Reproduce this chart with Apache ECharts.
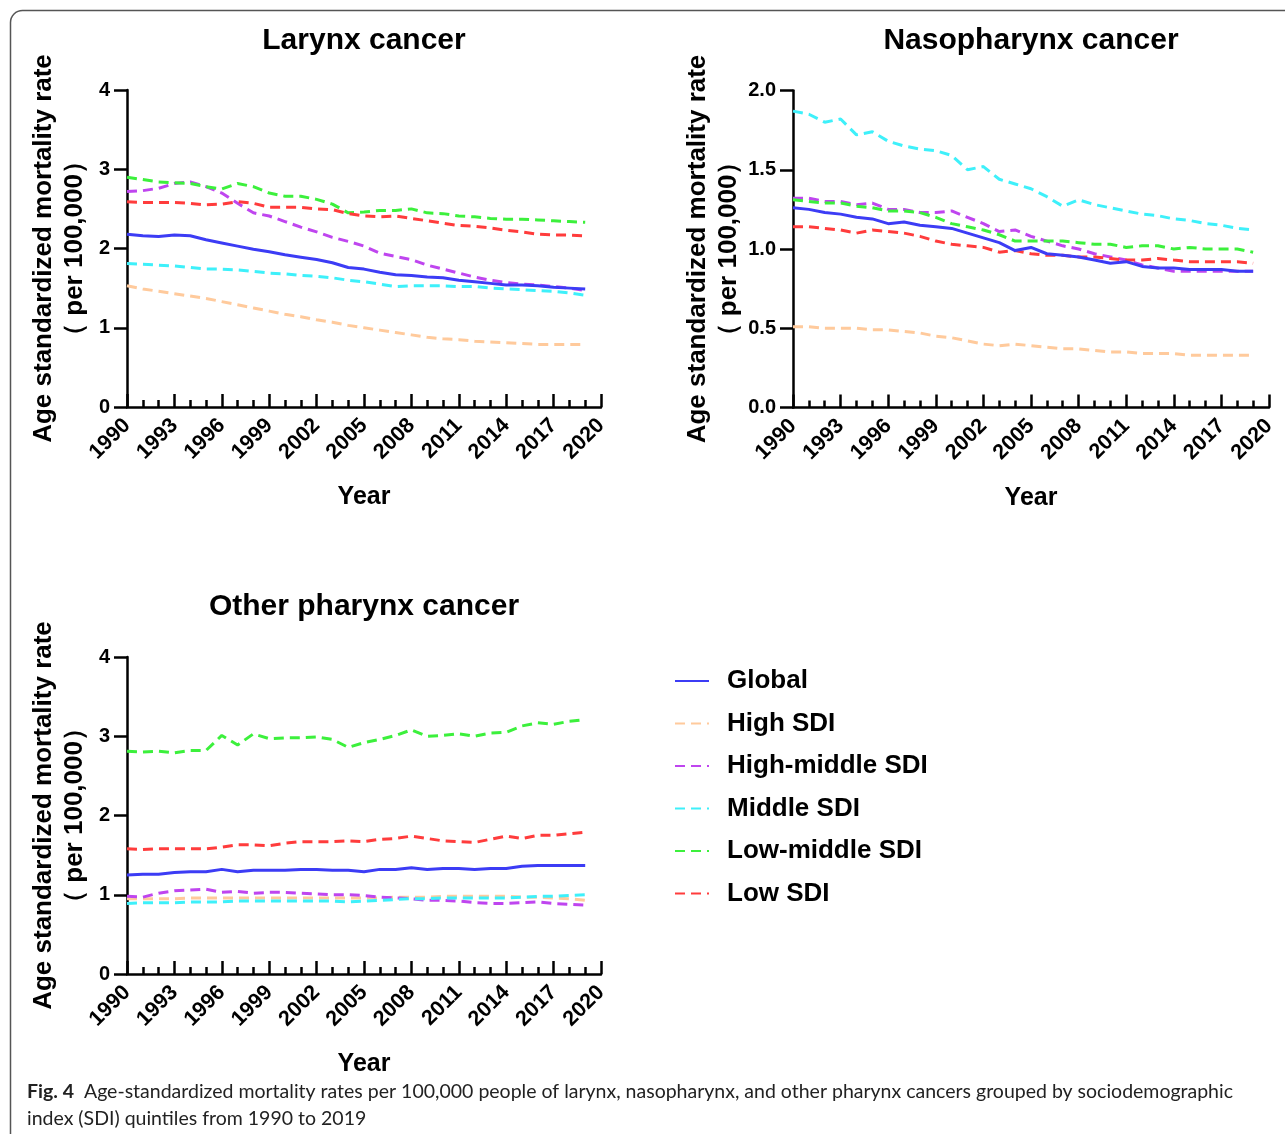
<!DOCTYPE html>
<html>
<head>
<meta charset="utf-8">
<script src="https://cdn.jsdelivr.net/npm/echarts@6/dist/echarts.min.js"></script>
<style>
html,body{margin:0;padding:0;background:#fff;}
#chart{width:1285px;height:1134px;}
</style>
</head>
<body>
<div id="chart"></div>
<script>
// ---------- data ----------
const years = [1990,1991,1992,1993,1994,1995,1996,1997,1998,1999,2000,2001,2002,2003,2004,2005,2006,2007,2008,2009,2010,2011,2012,2013,2014,2015,2016,2017,2018,2019];
const seriesNames = ['Global','High SDI','High-middle SDI','Middle SDI','Low-middle SDI','Low SDI'];
const seriesColors = ['#3c3cf5','#ffca9c','#bf45ef','#3ef0fa','#3cf03c','#ff3c3c'];
const panelTitles = ['Larynx cancer','Nasopharynx cancer','Other pharynx cancer'];

// Larynx cancer
const larynxGlobal     = [2.18,2.16,2.15,2.17,2.16,2.11,2.07,2.03,1.99,1.96,1.92,1.89,1.86,1.82,1.76,1.74,1.70,1.67,1.66,1.64,1.63,1.60,1.58,1.56,1.54,1.54,1.53,1.51,1.50,1.49];
const larynxHigh       = [1.53,1.49,1.46,1.43,1.40,1.37,1.33,1.29,1.25,1.21,1.17,1.14,1.10,1.07,1.03,1.00,0.97,0.94,0.91,0.88,0.86,0.85,0.83,0.82,0.81,0.80,0.79,0.79,0.79,0.79];
const larynxHighMid    = [2.72,2.73,2.76,2.82,2.84,2.78,2.70,2.57,2.45,2.41,2.34,2.27,2.21,2.14,2.09,2.03,1.94,1.90,1.86,1.79,1.74,1.69,1.64,1.60,1.57,1.55,1.54,1.52,1.50,1.47];
const larynxMiddle     = [1.81,1.80,1.79,1.78,1.76,1.74,1.74,1.73,1.71,1.69,1.68,1.66,1.65,1.63,1.60,1.58,1.55,1.52,1.53,1.53,1.53,1.52,1.52,1.50,1.49,1.48,1.47,1.46,1.44,1.41];
const larynxLowMid     = [2.90,2.87,2.84,2.83,2.82,2.78,2.75,2.82,2.78,2.70,2.66,2.66,2.62,2.56,2.45,2.46,2.48,2.48,2.50,2.45,2.44,2.41,2.40,2.38,2.37,2.37,2.36,2.35,2.34,2.33];
const larynxLow        = [2.59,2.58,2.58,2.58,2.57,2.55,2.56,2.59,2.57,2.52,2.52,2.52,2.50,2.49,2.44,2.41,2.40,2.41,2.38,2.35,2.32,2.29,2.28,2.26,2.23,2.21,2.18,2.17,2.17,2.16];

// Nasopharynx cancer
const nasoGlobal       = [1.26,1.25,1.23,1.22,1.20,1.19,1.16,1.17,1.15,1.14,1.13,1.10,1.07,1.04,0.99,1.01,0.97,0.96,0.95,0.93,0.91,0.92,0.89,0.88,0.88,0.87,0.87,0.87,0.86,0.86];
const nasoHigh         = [0.51,0.51,0.50,0.50,0.50,0.49,0.49,0.48,0.47,0.45,0.44,0.42,0.40,0.39,0.40,0.39,0.38,0.37,0.37,0.36,0.35,0.35,0.34,0.34,0.34,0.33,0.33,0.33,0.33,0.33];
const nasoHighMid      = [1.32,1.32,1.30,1.30,1.28,1.29,1.25,1.25,1.23,1.23,1.24,1.20,1.16,1.11,1.12,1.08,1.05,1.02,1.00,0.97,0.95,0.93,0.90,0.88,0.86,0.86,0.86,0.86,0.86,0.86];
const nasoMiddle       = [1.87,1.85,1.80,1.82,1.72,1.74,1.68,1.65,1.63,1.62,1.59,1.50,1.52,1.44,1.41,1.38,1.33,1.27,1.31,1.28,1.26,1.24,1.22,1.21,1.19,1.18,1.16,1.15,1.13,1.12];
const nasoLowMid       = [1.31,1.30,1.29,1.29,1.27,1.26,1.24,1.24,1.23,1.20,1.16,1.14,1.12,1.09,1.05,1.05,1.05,1.05,1.04,1.03,1.03,1.01,1.02,1.02,1.00,1.01,1.00,1.00,1.00,0.98];
const nasoLow          = [1.14,1.14,1.13,1.12,1.10,1.12,1.11,1.10,1.08,1.05,1.03,1.02,1.01,0.98,0.99,0.97,0.96,0.96,0.95,0.95,0.94,0.93,0.93,0.94,0.93,0.92,0.92,0.92,0.92,0.91];

// Other pharynx cancer
const otherGlobal      = [1.25,1.26,1.26,1.28,1.29,1.29,1.32,1.29,1.31,1.31,1.31,1.32,1.32,1.31,1.31,1.29,1.32,1.32,1.34,1.32,1.33,1.33,1.32,1.33,1.33,1.36,1.37,1.37,1.37,1.37];
const otherHigh        = [0.95,0.95,0.95,0.95,0.96,0.96,0.96,0.96,0.96,0.96,0.96,0.96,0.96,0.96,0.96,0.96,0.96,0.97,0.97,0.97,0.98,0.98,0.98,0.98,0.98,0.97,0.97,0.96,0.95,0.93];
const otherHighMid     = [0.98,0.97,1.02,1.05,1.06,1.07,1.03,1.04,1.02,1.03,1.03,1.02,1.01,1.00,1.00,0.99,0.97,0.96,0.95,0.93,0.93,0.92,0.90,0.89,0.89,0.90,0.91,0.89,0.88,0.87];
const otherMiddle      = [0.89,0.90,0.90,0.90,0.91,0.91,0.91,0.92,0.92,0.92,0.92,0.92,0.92,0.92,0.91,0.92,0.93,0.94,0.95,0.95,0.96,0.96,0.96,0.96,0.96,0.97,0.98,0.98,0.99,1.00];
const otherLowMid      = [2.81,2.80,2.81,2.79,2.82,2.82,3.01,2.89,3.03,2.97,2.98,2.98,2.99,2.96,2.86,2.92,2.96,3.01,3.08,3.00,3.01,3.03,3.00,3.04,3.05,3.13,3.17,3.15,3.19,3.21];
const otherLow         = [1.58,1.57,1.58,1.58,1.58,1.58,1.60,1.63,1.63,1.62,1.65,1.67,1.67,1.67,1.68,1.67,1.70,1.71,1.74,1.71,1.68,1.67,1.66,1.70,1.74,1.71,1.75,1.75,1.77,1.79];

const panelData = [
  [larynxGlobal, larynxHigh, larynxHighMid, larynxMiddle, larynxLowMid, larynxLow],
  [nasoGlobal, nasoHigh, nasoHighMid, nasoMiddle, nasoLowMid, nasoLow],
  [otherGlobal, otherHigh, otherHighMid, otherMiddle, otherLowMid, otherLow]
];
const yAxisMax = [4, 2, 4];
const yAxisInterval = [1, 0.5, 1];

// ---------- layout ----------
const grids = [
  {left:127, top:90, width:474, height:317},
  {left:793, top:90.5, width:476, height:317},
  {left:127, top:657, width:474, height:317}
];
const FONT = 'Arial, "Liberation Sans", Helvetica, sans-serif';

const chart = echarts.init(document.getElementById('chart'), null, {renderer:'canvas'});

const xAxes = [], yAxes = [], series = [];
grids.forEach((g, i) => {
  xAxes.push({
    gridIndex:i, type:'value', min:1990, max:2020, interval:3,
    name:'Year', nameLocation:'middle', nameGap:78,
    nameTextStyle:{fontFamily:FONT, fontWeight:'bold', fontSize:25, color:'#000'},
    axisLine:{show:true, onZero:false, lineStyle:{color:'#000', width:2.5}},
    axisTick:{show:true, inside:true, length:13, lineStyle:{color:'#000', width:2.5}},
    minorTick:{show:true, splitNumber:3, length:7, lineStyle:{color:'#000', width:2.5}},
    splitLine:{show:false},
    axisLabel:{rotate:45, margin:15, fontFamily:FONT, fontWeight:'bold', fontSize:21.5, color:'#000',
      formatter: v => String(v)}
  });
  yAxes.push({
    gridIndex:i, type:'value', min:0, max:yAxisMax[i], interval:yAxisInterval[i],
    name:'Age standardized mortality rate\n（ per 100,000）', nameLocation:'middle', nameGap:37,
    nameTextStyle:{fontFamily:FONT, fontWeight:'bold', fontSize:26, color:'#000', lineHeight:31},
    axisLine:{show:true, lineStyle:{color:'#000', width:2.5}},
    axisTick:{show:true, inside:false, length:13, lineStyle:{color:'#000', width:2.5}},
    splitLine:{show:false},
    axisLabel:{margin:17, fontFamily:FONT, fontWeight:'bold', fontSize:20, color:'#000',
      formatter: v => (i === 1 ? v.toFixed(1) : String(v))}
  });
  panelData[i].forEach((arr, k) => {
    series.push({
      name: seriesNames[k], type:'line', xAxisIndex:i, yAxisIndex:i,
      data: years.map((y, j) => [y, arr[j]]),
      symbol:'none', smooth:false, silent:true,
      z: k === 0 ? 3 : 2,
      lineStyle:{color:seriesColors[k], width:3, type: k === 0 ? 'solid' : [10,6]},
      itemStyle:{color:seriesColors[k]}
    });
  });
});

const graphics = [
  {type:'rect', shape:{x:10.5, y:10.5, width:1400, height:1300, r:12}, style:{fill:'none', stroke:'#555', lineWidth:1.5}, silent:true},
  {type:'text', x:364, y:41, style:{text:panelTitles[0], fontFamily:FONT, fontWeight:'bold', fontSize:30, fill:'#000', textAlign:'center', textVerticalAlign:'middle'}},
  {type:'text', x:1031, y:41, style:{text:panelTitles[1], fontFamily:FONT, fontWeight:'bold', fontSize:30, fill:'#000', textAlign:'center', textVerticalAlign:'middle'}},
  {type:'text', x:364, y:607, style:{text:panelTitles[2], fontFamily:FONT, fontWeight:'bold', fontSize:30, fill:'#000', textAlign:'center', textVerticalAlign:'middle'}},
  {type:'text', x:27, y:1078, style:{
    text:'{b|Fig. 4}{r|  Age-standardized mortality rates per 100,000 people of larynx, nasopharynx, and other pharynx cancers grouped by sociodemographic}\n{r|index (SDI) quintiles from 1990 to 2019}',
    rich:{
      b:{fontFamily:'Lato, "Open Sans", sans-serif', fontWeight:'bold', fontSize:19.5, fill:'#222', lineHeight:27},
      r:{fontFamily:'Lato, "Open Sans", sans-serif', fontSize:19.5, fill:'#222', lineHeight:27}
    }}}
];

chart.setOption({
  animation:false,
  backgroundColor:'#fff',
  grid: grids,
  xAxis: xAxes,
  yAxis: yAxes,
  series: series,
  legend: {
    data: seriesNames, orient:'vertical', left:669, top:663,
    itemWidth:34, itemHeight:14, itemGap:16.5,
    itemStyle:{opacity:0},
    textStyle:{fontFamily:FONT, fontWeight:'bold', fontSize:26, color:'#000', lineHeight:26, padding:[0,0,0,13]},
    selectedMode:false
  },
  graphic: graphics
});
</script>
</body>
</html>
